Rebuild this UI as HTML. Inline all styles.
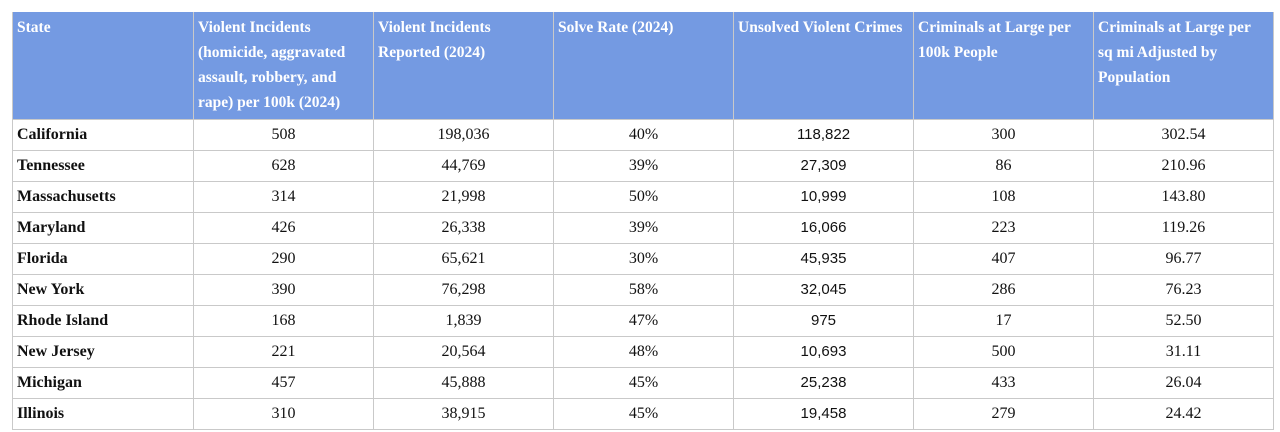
<!DOCTYPE html>
<html><head><meta charset="utf-8"><style>
body{margin:0;background:#fff;width:1280px;height:432px;overflow:hidden}
table{position:absolute;left:12px;top:12px;width:1261px;border-collapse:collapse;table-layout:fixed;font-family:"Liberation Serif",serif;font-size:16px;color:#111}
th{background:#749ae2;color:#fff;font-weight:bold;text-align:left;vertical-align:top;font-size:15.5px;line-height:25px;padding:3px 4px 0 4px;height:104px;border:1px solid #c9c9c9;border-top:none}
td{height:30px;padding:0 4px;border:1px solid #c9c9c9;text-align:center;line-height:30px}
td:first-child{text-align:left;font-weight:bold}
td.sans{font-family:"Liberation Sans",sans-serif;font-size:15px}
</style></head><body>
<table>
<colgroup><col style="width:181px"><col style="width:180px"><col style="width:180px"><col style="width:180px"><col style="width:180px"><col style="width:180px"><col style="width:180px"></colgroup>
<thead><tr>
<th>State</th>
<th>Violent Incidents (homicide, aggravated assault, robbery, and rape) per 100k (2024)</th>
<th>Violent Incidents Reported (2024)</th>
<th>Solve Rate (2024)</th>
<th>Unsolved Violent Crimes</th>
<th>Criminals at Large per 100k People</th>
<th>Criminals at Large per sq mi Adjusted by Population</th>
</tr></thead>
<tbody id="tb"></tbody></table>
<script>
const states=["California","Tennessee","Massachusetts","Maryland","Florida","New York","Rhode Island","New Jersey","Michigan","Illinois"];
const per100k=["508","628","314","426","290","390","168","221","457","310"];
const reported=["198,036","44,769","21,998","26,338","65,621","76,298","1,839","20,564","45,888","38,915"];
const solve=["40%","39%","50%","39%","30%","58%","47%","48%","45%","45%"];
const unsolved=["118,822","27,309","10,999","16,066","45,935","32,045","975","10,693","25,238","19,458"];
const atLarge=["300","86","108","223","407","286","17","500","433","279"];
const perSqmi=["302.54","210.96","143.80","119.26","96.77","76.23","52.50","31.11","26.04","24.42"];
const tb=document.getElementById('tb');
const cols=[[states,'state'],[per100k,'per-100k'],[reported,'reported'],[solve,'solve-rate'],[unsolved,'unsolved'],[atLarge,'at-large'],[perSqmi,'per-sqmi']];
states.forEach((s,i)=>{
 const tr=document.createElement('tr');
 
 
 cols.forEach(([arr,n],j)=>{
  const td=document.createElement('td');
  td.textContent=arr[i];
  if(j===4)td.className='sans';
  
  
  tr.appendChild(td);
 });
 tb.appendChild(tr);
});
</script>
</body></html>
